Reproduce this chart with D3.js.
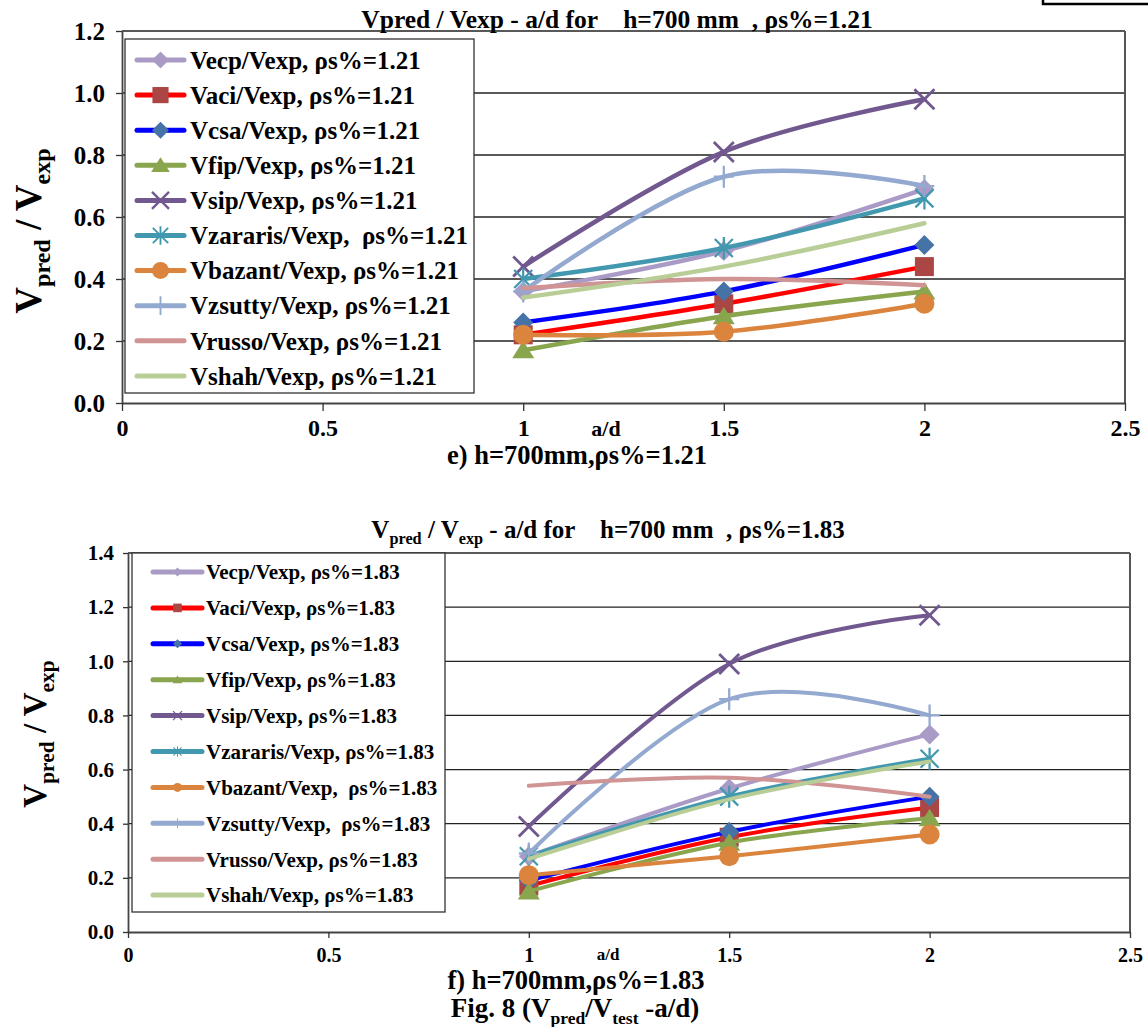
<!DOCTYPE html>
<html><head><meta charset="utf-8">
<script src="https://cdn.jsdelivr.net/npm/d3@7"></script>
<style>
html,body{margin:0;padding:0;background:#fff;}
svg{display:block;font-family:"Liberation Serif","Times New Roman",serif;font-weight:bold;}
text{white-space:pre;}
</style></head><body>
<svg id="c" width="1148" height="1027"></svg>
<script>
// ---------------- DATA ----------------
const adValues = [1, 1.5, 2];
const xTickValues = [0, 0.5, 1, 1.5, 2, 2.5];
const yTickValuesE = [0, 0.2, 0.4, 0.6, 0.8, 1.0, 1.2];
const yTickValuesF = [0, 0.2, 0.4, 0.6, 0.8, 1.0, 1.2, 1.4];

const legendLabelsE = [
  "Vecp/Vexp, ρs%=1.21", "Vaci/Vexp, ρs%=1.21", "Vcsa/Vexp, ρs%=1.21",
  "Vfip/Vexp, ρs%=1.21", "Vsip/Vexp, ρs%=1.21", "Vzararis/Vexp,  ρs%=1.21",
  "Vbazant/Vexp, ρs%=1.21", "Vzsutty/Vexp, ρs%=1.21", "Vrusso/Vexp, ρs%=1.21",
  "Vshah/Vexp, ρs%=1.21"];
const legendLabelsF = [
  "Vecp/Vexp, ρs%=1.83", "Vaci/Vexp, ρs%=1.83", "Vcsa/Vexp, ρs%=1.83",
  "Vfip/Vexp, ρs%=1.83", "Vsip/Vexp, ρs%=1.83", "Vzararis/Vexp, ρs%=1.83",
  "Vbazant/Vexp,  ρs%=1.83", "Vzsutty/Vexp,  ρs%=1.83", "Vrusso/Vexp, ρs%=1.83",
  "Vshah/Vexp, ρs%=1.83"];

// chart e) h=700mm, ρs%=1.21
const ecpE      = [0.36, 0.49, 0.69];
const aciE      = [0.22, 0.32, 0.44];
const csaE      = [0.26, 0.36, 0.51];
const fipE      = [0.17, 0.28, 0.36];
const sipE      = [0.44, 0.81, 0.98];
const zararisE  = [0.40, 0.50, 0.66];
const bazantE   = [0.22, 0.23, 0.32];
const zsuttyE   = [0.36, 0.73, 0.70];
const russoE    = [0.37, 0.40, 0.38];
const shahE     = [0.34, 0.44, 0.58];

// chart f) h=700mm, ρs%=1.83
const ecpF      = [0.28, 0.53, 0.73];
const aciF      = [0.17, 0.35, 0.46];
const csaF      = [0.19, 0.37, 0.50];
const fipF      = [0.15, 0.33, 0.42];
const sipF      = [0.39, 0.99, 1.17];
const zararisF  = [0.28, 0.50, 0.64];
const bazantF   = [0.21, 0.28, 0.36];
const zsuttyF   = [0.29, 0.86, 0.80];
const russoF    = [0.54, 0.57, 0.50];
const shahF     = [0.27, 0.49, 0.63];

const seriesE = [ecpE, aciE, csaE, fipE, sipE, zararisE, bazantE, zsuttyE, russoE, shahE];
const seriesF = [ecpF, aciF, csaF, fipF, sipF, zararisF, bazantF, zsuttyF, russoF, shahF];

// ---------------- STYLES ----------------
const styles = [
  {line:'#A99BC6', mark:'#A99BC6', m:'diamond'},
  {line:'#FF0000', mark:'#AA4643', m:'square'},
  {line:'#0000FF', mark:'#4572A7', m:'diamond'},
  {line:'#89A54E', mark:'#89A54E', m:'triangle'},
  {line:'#71588F', mark:'#71588F', m:'x'},
  {line:'#4198AF', mark:'#4198AF', m:'asterisk'},
  {line:'#DB843D', mark:'#DB843D', m:'circle'},
  {line:'#93A9CF', mark:'#93A9CF', m:'plus'},
  {line:'#D09494', mark:null, m:null},
  {line:'#B9CD96', mark:null, m:null}
];

const svg = d3.select('#c');
const FONT = '"Liberation Serif","Times New Roman",serif';

function drawMarker(g, type, cx, cy, s, color) {
  const sw = Math.max(1.2, s * 0.28);
  switch (type) {
    case 'diamond':
      g.append('path').attr('d', `M${cx},${cy-s}L${cx+s},${cy}L${cx},${cy+s}L${cx-s},${cy}Z`).attr('fill', color); break;
    case 'square':
      g.append('rect').attr('x', cx - s*0.95).attr('y', cy - s*0.95).attr('width', s*1.9).attr('height', s*1.9).attr('fill', color); break;
    case 'triangle':
      g.append('path').attr('d', `M${cx},${cy-s*0.95}L${cx+s*1.1},${cy+s*0.8}L${cx-s*1.1},${cy+s*0.8}Z`).attr('fill', color); break;
    case 'circle':
      g.append('circle').attr('cx', cx).attr('cy', cy).attr('r', s).attr('fill', color); break;
    case 'x':
      g.append('path').attr('d', `M${cx-s},${cy-s}L${cx+s},${cy+s}M${cx+s},${cy-s}L${cx-s},${cy+s}`).attr('stroke', color).attr('stroke-width', sw).attr('fill','none'); break;
    case 'asterisk':
      g.append('path').attr('d', `M${cx-s*0.9},${cy-s*0.9}L${cx+s*0.9},${cy+s*0.9}M${cx+s*0.9},${cy-s*0.9}L${cx-s*0.9},${cy+s*0.9}M${cx},${cy-s*1.1}L${cx},${cy+s*1.1}`).attr('stroke', color).attr('stroke-width', sw*0.8).attr('fill','none'); break;
    case 'plus':
      g.append('path').attr('d', `M${cx},${cy-s*1.1}L${cx},${cy+s*1.1}M${cx-s},${cy}L${cx+s},${cy}`).attr('stroke', color).attr('stroke-width', sw*0.8).attr('fill','none'); break;
  }
}

function richText(sel, parts, size) {
  let shifted = false;
  parts.forEach(([t, sub]) => {
    const ts = sel.append('tspan').text(t);
    if (sub) {
      ts.attr('font-size', size * 0.65);
      if (!shifted) { ts.attr('dy', size * 0.25); shifted = true; }
    } else {
      if (shifted) { ts.attr('dy', -size * 0.25); shifted = false; }
    }
  });
}

function drawChart(cfg) {
  const g = svg.append('g');
  const x = d3.scaleLinear().domain([0, 2.5]).range([cfg.left, cfg.right]);
  const y = d3.scaleLinear().domain([0, cfg.ymax]).range([cfg.bottom, cfg.top]);

  g.append('g').selectAll('line').data(cfg.yTicks.filter(v => v > 0)).join('line')
    .attr('x1', cfg.left).attr('x2', cfg.right)
    .attr('y1', d => y(d)).attr('y2', d => y(d))
    .attr('stroke', '#222').attr('stroke-width', 1.3);
  g.append('line').attr('x1', cfg.right).attr('x2', cfg.right).attr('y1', cfg.top).attr('y2', cfg.bottom)
    .attr('stroke', '#555').attr('stroke-width', 2);

  const ya = g.append('g').attr('transform', `translate(${cfg.left},0)`)
    .call(d3.axisLeft(y).tickValues(cfg.yTicks).tickFormat(d3.format('.1f'))
      .tickSize(cfg.yTickSize).tickSizeOuter(0).tickPadding(cfg.yPad))
    .attr('font-family', FONT).attr('font-size', cfg.yFont).attr('font-weight', 'bold');
  ya.selectAll('text').attr('fill', '#000');
  ya.selectAll('line').attr('stroke', '#333').attr('stroke-width', 1.3);
  ya.select('.domain').attr('stroke', '#444').attr('stroke-width', 1.8);

  const xa = g.append('g').attr('transform', `translate(0,${cfg.bottom})`)
    .call(d3.axisBottom(x).tickValues(xTickValues).tickFormat(d => String(d))
      .tickSize(cfg.xTickSize).tickSizeOuter(0).tickPadding(cfg.xPad))
    .attr('font-family', FONT).attr('font-size', cfg.xFont).attr('font-weight', 'bold');
  xa.selectAll('text').attr('fill', '#000');
  xa.selectAll('line').attr('stroke', '#333').attr('stroke-width', 1.3);
  xa.select('.domain').attr('stroke', '#444').attr('stroke-width', 2);

  const lg = g.append('g');
  lg.append('rect').attr('x', cfg.leg.x).attr('y', cfg.leg.y).attr('width', cfg.leg.w).attr('height', cfg.leg.h)
    .attr('fill', '#fff').attr('stroke', '#333').attr('stroke-width', 1.3);
  cfg.labels.forEach((lab, i) => {
    const ly = cfg.leg.row0 + i * cfg.leg.step;
    const st = styles[i];
    lg.append('line').attr('x1', cfg.leg.lx1).attr('x2', cfg.leg.lx2).attr('y1', ly).attr('y2', ly)
      .attr('stroke', st.line).attr('stroke-width', cfg.leg.lw).attr('stroke-linecap', 'round');
    if (st.m) drawMarker(lg, st.m, (cfg.leg.lx1 + cfg.leg.lx2) / 2, ly, cfg.leg.ms, st.mark);
    lg.append('text').attr('x', cfg.leg.tx).attr('y', ly).attr('dy', '0.35em')
      .attr('font-size', cfg.leg.font).attr('fill', '#000').text(lab);
  });

  const lineGen = d3.line().x((d, i) => x(adValues[i])).y(d => y(d)).curve(d3.curveCardinal.tension(0));
  cfg.series.forEach((vals, i) => {
    const st = styles[i];
    const sg = g.append('g');
    sg.append('path').datum(vals).attr('d', lineGen).attr('fill', 'none')
      .attr('stroke', st.line).attr('stroke-width', cfg.lw).attr('stroke-linecap', 'round');
    if (st.m) vals.forEach((v, k) => drawMarker(sg, st.m, x(adValues[k]), y(v), cfg.ms, st.mark));
  });

  g.append('text').attr('x', cfg.ad.x).attr('y', cfg.ad.y).attr('text-anchor', 'middle')
    .attr('font-size', cfg.ad.font).text('a/d');
  return {x, y};
}

drawChart({
  left: 122, right: 1125, top: 31, bottom: 403, ymax: 1.2, yTicks: yTickValuesE,
  yTickSize: 6, yPad: 11, yFont: 25, xTickSize: 8, xPad: 8, xFont: 24, lw: 4.5, ms: 10,
  series: seriesE, labels: legendLabelsE,
  leg: {x: 125, y: 39, w: 349, h: 354, row0: 60, step: 35.1, lx1: 137, lx2: 184, lw: 5, ms: 8.5, tx: 190, font: 25},
  ad: {x: 606, y: 436, font: 22}
});

drawChart({
  left: 128, right: 1130, top: 553, bottom: 932, ymax: 1.4, yTicks: yTickValuesF,
  yTickSize: 5, yPad: 9, yFont: 21, xTickSize: 6, xPad: 10, xFont: 20, lw: 4, ms: 10,
  series: seriesF, labels: legendLabelsF,
  leg: {x: 132, y: 553, w: 313, h: 359, row0: 572, step: 35.9, lx1: 153, lx2: 202, lw: 5, ms: 4.5, tx: 206, font: 21},
  ad: {x: 608, y: 960, font: 17}
});

// titles
svg.append('text').attr('x', 617).attr('y', 28).attr('text-anchor', 'middle').attr('font-size', 25.5)
  .text('Vpred / Vexp - a/d for    h=700 mm  , ρs%=1.21');
richText(svg.append('text').attr('x', 608).attr('y', 538).attr('text-anchor', 'middle').attr('font-size', 25),
  [['V'], ['pred', 1], [' / V'], ['exp', 1], [' - a/d for    h=700 mm  , ρs%=1.83']], 25);

// y-axis titles
richText(svg.append('text').attr('transform', 'translate(41,231) rotate(-90)').attr('text-anchor', 'middle').attr('font-size', 37),
  [['V'], ['pred', 1], [' / V'], ['exp', 1]], 37);
richText(svg.append('text').attr('transform', 'translate(46,734) rotate(-90)').attr('text-anchor', 'middle').attr('font-size', 33),
  [['V'], ['pred', 1], [' / V'], ['exp', 1]], 33);

// captions
svg.append('text').attr('x', 577).attr('y', 464).attr('text-anchor', 'middle').attr('font-size', 26.5).text('e) h=700mm,ρs%=1.21');
svg.append('text').attr('x', 576).attr('y', 989).attr('text-anchor', 'middle').attr('font-size', 26.5).text('f) h=700mm,ρs%=1.83');
richText(svg.append('text').attr('x', 575).attr('y', 1017).attr('text-anchor', 'middle').attr('font-size', 27),
  [['Fig. 8 (V'], ['pred', 1], ['/V'], ['test', 1], [' -a/d)']], 27);

// box at top-right corner
svg.append('rect').attr('x', 1043).attr('y', -20).attr('width', 150).attr('height', 24)
  .attr('fill', 'none').attr('stroke', '#000').attr('stroke-width', 2.5);
</script>
</body></html>
